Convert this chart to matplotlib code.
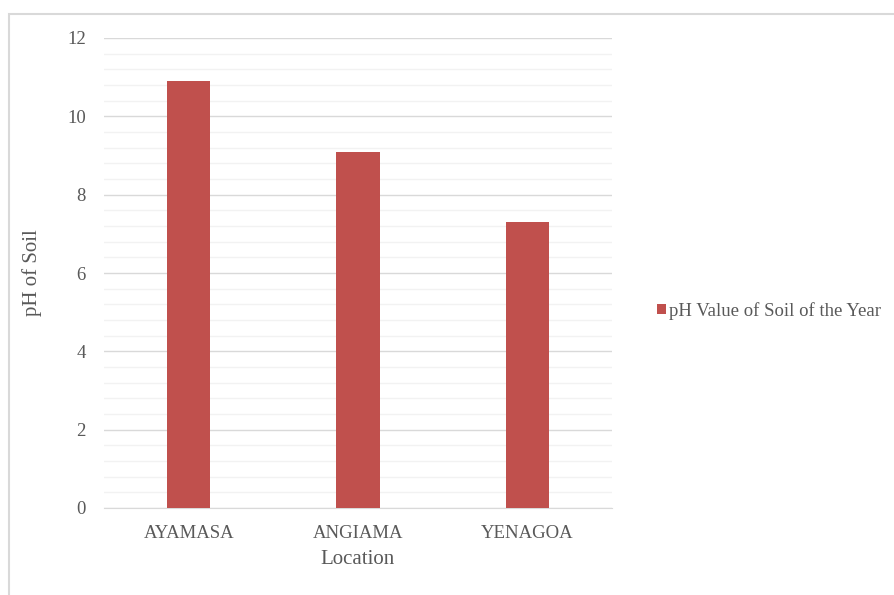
import matplotlib.pyplot as plt
from matplotlib.patches import Rectangle
from matplotlib.ticker import MultipleLocator
import numpy as np

locations = ["AYAMASA", "ANGIAMA", "YENAGOA"]
ph_values = [10.9, 9.1, 7.3]
series_name = "pH Value of Soil of the Year"

plt.rcParams['font.family'] = ['Liberation Serif', 'DejaVu Serif']
text_color = "#595959"
bar_color = "#c0504d"

fig = plt.figure(figsize=(8.95, 5.95), dpi=100)
fig.patches.append(Rectangle((9 / 895, -0.01), 1.0, 1 - 14 / 595 + 0.01,
                             transform=fig.transFigure, fill=False,
                             edgecolor="#d9d9d9", linewidth=1.5))

ax = fig.add_axes([104 / 895, 1 - 508 / 595, 508 / 895, 470 / 595])
x = np.arange(len(locations))
bars = ax.bar(x, ph_values, width=0.255, color=bar_color, label=series_name,
              zorder=3)

ax.set_xlim(-0.5, len(locations) - 0.5)
ax.set_ylim(0, 12)
ax.yaxis.set_major_locator(MultipleLocator(2))
ax.yaxis.set_minor_locator(MultipleLocator(0.4))
ax.grid(axis="y", which="major", color="#d9d9d9", linewidth=1.0, zorder=0)
ax.grid(axis="y", which="minor", color="#f2f2f2", linewidth=1.0, zorder=0)

for side in ["top", "right", "left"]:
    ax.spines[side].set_visible(False)
ax.spines["bottom"].set_color("#d9d9d9")
ax.tick_params(axis="both", which="both", length=0, colors=text_color,
               labelsize=13.5)
ax.tick_params(axis="y", pad=13)
ax.tick_params(axis="x", pad=12)
ax.set_xticks(x)
ax.set_xticklabels(locations)

ax.set_xlabel("Location", fontsize=15, color=text_color, labelpad=6)
ax.set_ylabel("pH of Soil", fontsize=15, color=text_color, labelpad=18)

leg = ax.legend(loc="center left", bbox_to_anchor=(1.055, 0.42), frameon=False,
                fontsize=13.5, handlelength=0.5, handleheight=0.5,
                handletextpad=0.15, labelcolor=text_color)

fig.savefig("out.png", dpi=100)
